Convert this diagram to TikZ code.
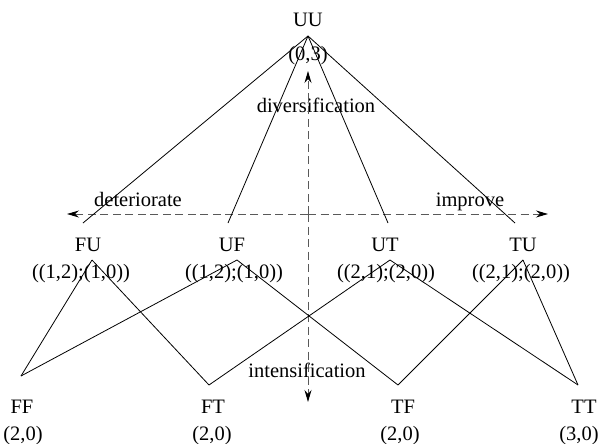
\documentclass[tikz,border=0pt]{standalone}
\usepackage{fontspec}
\setmainfont{Liberation Serif}
\usetikzlibrary{arrows.meta}
\begin{document}
\begin{tikzpicture}[x=1pt,y=-1pt,
  lbl/.style={font=\fontsize{20.5}{24}\selectfont, inner sep=0pt, anchor=base},
  edge/.style={line width=0.8pt, black},
  axis/.style={line width=0.9pt, draw=black!65, dash pattern=on 8pt off 4.5pt,
    -{Stealth[length=12pt,width=7pt,inset=4pt,black]}}]
\useasboundingbox (0,0) rectangle (600,444);
% labels
\node[lbl] (UU) at (308,27) {UU};
\node[lbl] (UUv) at (308,61) {(0,3)};
\node[lbl] (FU) at (88,251) {FU};
\node[lbl] (FUv) at (81,278) {((1,2);(1,0))};
\node[lbl] (UF) at (232,251) {UF};
\node[lbl] (UFv) at (234,278) {((1,2);(1,0))};
\node[lbl] (UT) at (385,251) {UT};
\node[lbl] (UTv) at (386,278) {((2,1);(2,0))};
\node[lbl] (TU) at (523,251) {TU};
\node[lbl] (TUv) at (521,278) {((2,1);(2,0))};
\node[lbl] (FF) at (22,413) {FF};
\node[lbl] (FFv) at (23,440) {(2,0)};
\node[lbl] (FT) at (213,413) {FT};
\node[lbl] (FTv) at (212,440) {(2,0)};
\node[lbl] (TF) at (403,413) {TF};
\node[lbl] (TFv) at (400,440) {(2,0)};
\node[lbl] (TT) at (584,413) {TT};
\node[lbl] (TTv) at (579,440) {(3,0)};
\node[lbl] (div) at (316,113) {diversification};
\node[lbl] (det) at (138,206) {deteriorate};
\node[lbl] (imp) at (470,206) {improve};
\node[lbl] (int) at (307,377) {intensification};
% line end points
\coordinate (UUa) at (308,36);
\coordinate (FUt) at (83,223);
\coordinate (UFt) at (228,223);
\coordinate (UTt) at (388,223);
\coordinate (TUt) at (515,223);
\coordinate (FUb) at (92,260);
\coordinate (UFb) at (237,260);
\coordinate (UTb) at (390,260);
\coordinate (TUb) at (523,260);
\coordinate (FFa) at (21,376);
\coordinate (FTa) at (209,385);
\coordinate (TFa) at (398,385);
\coordinate (TTa) at (578,385);
% axes
\coordinate (O) at (308,214);
\coordinate (L) at (67,214);
\coordinate (R) at (548,214);
\coordinate (T) at (308,71);
\coordinate (B) at (308,402);
\draw[axis] (O) -- (L);
\draw[axis] (O) -- (R);
\draw[axis] (O) -- (T);
\draw[axis] (O) -- (B);
% edges
\draw[edge] (UUa) -- (FUt);
\draw[edge] (UUa) -- (UFt);
\draw[edge] (UUa) -- (UTt);
\draw[edge] (UUa) -- (TUt);
\draw[edge] (FUb) -- (FFa);
\draw[edge] (FUb) -- (FTa);
\draw[edge] (UFb) -- (FFa);
\draw[edge] (UFb) -- (TFa);
\draw[edge] (UTb) -- (FTa);
\draw[edge] (UTb) -- (TTa);
\draw[edge] (TUb) -- (TFa);
\draw[edge] (TUb) -- (TTa);
\end{tikzpicture}
\end{document}
